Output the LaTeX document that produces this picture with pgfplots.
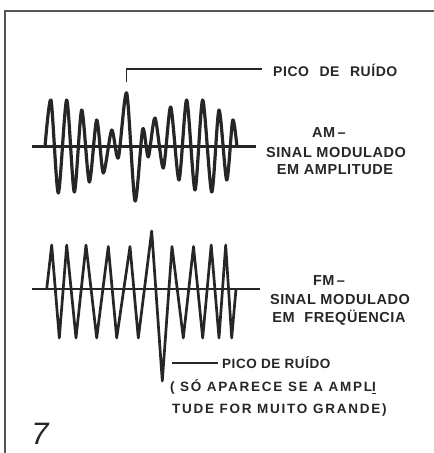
\documentclass[border=0pt]{standalone}
\usepackage{pgfplots}
\pgfplotsset{compat=1.18}
\usepackage{fontspec}
\setmainfont{Liberation Sans}
\newfontfamily\lab[LetterSpace=4]{Liberation Sans Bold}
\newfontfamily\labsm[LetterSpace=13]{Liberation Sans Bold}
\definecolor{ink}{HTML}{262626}
\definecolor{frame}{HTML}{555555}
\begin{document}
\begin{tikzpicture}
\begin{axis}[
  width=434pt, height=453pt, scale only axis,
  xmin=0, xmax=434, ymin=0, ymax=453, y dir=reverse,
  axis line style={draw=none}, ticks=none,
  clip=true,
]
% frame
\addplot[frame, line width=2pt] coordinates {(4.5,453) (4.5,11) (434,11)};
% AM baseline
\addplot[ink, line width=2.3pt] coordinates {(32,146.5) (256,146.5)};
% AM signal
\addplot[ink, line width=3.2pt, smooth, tension=0.45, line join=round] coordinates {
(45,146.5) (51,100) (58.3,193) (66.7,100) (74.3,192) (81.7,110) (89.3,182)
(96.7,120) (103.3,173) (111.7,130) (118.3,158) (126.7,93) (135,201)
(142.7,129) (148.3,157) (155,118) (163.3,168) (170.7,107) (179,180)
(186.7,100) (195,190) (202.7,100) (211.7,192) (219,110) (226.7,180)
(232.7,120) (237,147)};
% AM noise marker
\addplot[ink, line width=1.4pt] coordinates {(126.7,82) (126.7,69) (262,69)};
% FM baseline
\addplot[ink, line width=2.3pt] coordinates {(32,289) (260,289)};
% FM signal
\addplot[ink, line width=2.7pt, line join=round] coordinates {
(46.7,289) (51.7,245) (59.3,338) (66.7,245) (76,338) (86,245) (96.7,338)
(108.3,246.5) (116.7,338) (130,246.5) (138.3,338) (151.7,231) (162.3,381)
(172,246.5) (183.3,338) (193.5,246.5) (202.7,338) (211.2,245) (219,338)
(225.7,245) (231.7,338) (236,289)};
% FM noise marker
\addplot[ink, line width=1.4pt] coordinates {(172,363) (218,363)};
% labels
\node[anchor=west, text=ink, inner sep=0pt] at (axis cs:273,70) {\lab\fontsize{14}{15}\selectfont PICO\hspace{6pt} DE\hspace{6pt} RUÍDO};
\node[text=ink, inner sep=0pt] at (axis cs:329,133) {\lab\fontsize{14.5}{15}\selectfont AM\,–};
\node[text=ink, inner sep=0pt] at (axis cs:336,153) {\lab\fontsize{14.5}{15}\selectfont SINAL MODULADO};
\node[text=ink, inner sep=0pt] at (axis cs:335,170) {\lab\fontsize{14.5}{15}\selectfont EM AMPLITUDE};
\node[text=ink, inner sep=0pt] at (axis cs:329,281) {\lab\fontsize{14.5}{15}\selectfont FM\,–};
\node[text=ink, inner sep=0pt] at (axis cs:340,300) {\lab\fontsize{14.5}{15}\selectfont SINAL MODULADO};
\node[text=ink, inner sep=0pt] at (axis cs:339,318) {\lab\fontsize{14.5}{15}\selectfont EM\hspace{5pt} FREQÜENCIA};
\node[anchor=west, text=ink, inner sep=0pt] at (axis cs:222,363) {\lab\fontsize{13.5}{15}\selectfont PICO DE RUÍDO};
\node[anchor=west, text=ink, inner sep=0pt] at (axis cs:170,387) {\labsm\fontsize{13.5}{15}\selectfont ( SÓ APARECE SE A AMPL\underline{I}};
\node[anchor=west, text=ink, inner sep=0pt] at (axis cs:172,410) {\labsm\fontsize{13.5}{15}\selectfont TUDE FOR MUITO GRANDE)};
\node[text=ink, inner sep=0pt] at (axis cs:40,434) {\fontsize{31}{32}\selectfont\itshape 7};
\end{axis}
\end{tikzpicture}
\end{document}
